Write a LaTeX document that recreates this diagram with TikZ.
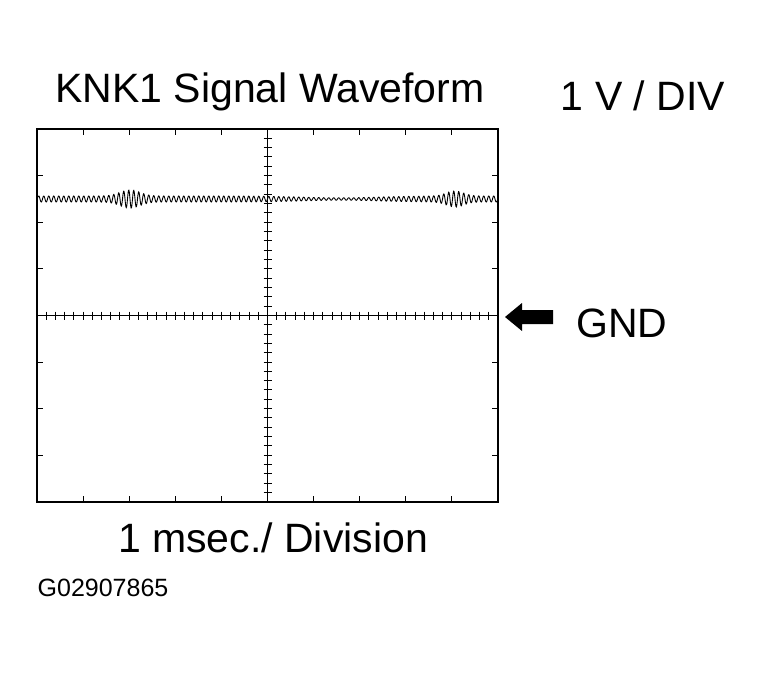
\documentclass[tikz,border=0pt]{standalone}
\usepackage{fontspec}
\setmainfont{Liberation Sans}
\begin{document}
\begin{tikzpicture}[x=1pt, y=-1pt, line width=1.2pt,
    label text/.style={font=\fontsize{41}{45}\selectfont, inner sep=0pt},
    tick/.style={line width=1pt},
    declare function={bump(\a,\c,\w)=\a*exp(-min(((\a-\a+\x-\c)/\w)^2,20));}]
    \useasboundingbox (0,0) rectangle (759,672);

    % Screen frame
    \draw (37,129) rectangle (498,502);
    \draw (37,315.5) -- (498,315.5);
    \draw (267.5,129) -- (267.5,502);

    % Division ticks on the frame
    \foreach \i in {1,...,9} {
        \draw[tick] ({37+46.1*\i},129) -- ++(0,6);
        \draw[tick] ({37+46.1*\i},502) -- ++(0,-6);
    }
    \foreach \j in {1,...,7} {
        \draw[tick] (37,{129+46.6*\j}) -- ++(6,0);
        \draw[tick] (498,{129+46.6*\j}) -- ++(-6,0);
    }

    % Minor ticks on the centre axes
    \foreach \i in {1,...,49}
        \draw[tick] ({37+9.22*\i},311.5) -- ++(0,8);
    \foreach \j in {1,...,39}
        \draw[tick] (263.5,{129+9.32*\j}) -- ++(8,0);

    % Knock signal
    \draw[line width=0.9pt, samples=1400, domain=38:497, smooth]
        plot (\x, {199 + (3 + bump(6,130,14) + bump(5,455,12) - bump(1.8,340,55))
              * sin(mod(\x,5)*72)});

    % Texts
    \node[label text] (title) at (270,92) {KNK1 Signal Waveform};
    \node[label text] (scale) at (643,96) {1 V / DIV};
    \node[label text] (gnd) at (622,323) {GND};
    \node[label text] (time) at (273,538) {1 msec./ Division};
    \node[font=\fontsize{25}{28}\selectfont, inner sep=0pt] (code) at (103,588) {G02907865};

    % Ground marker
    \fill (505,317) -- (522,303) -- (522,310) -- (553,310) -- (553,324)
          -- (522,324) -- (522,331) -- cycle;
\end{tikzpicture}
\end{document}
